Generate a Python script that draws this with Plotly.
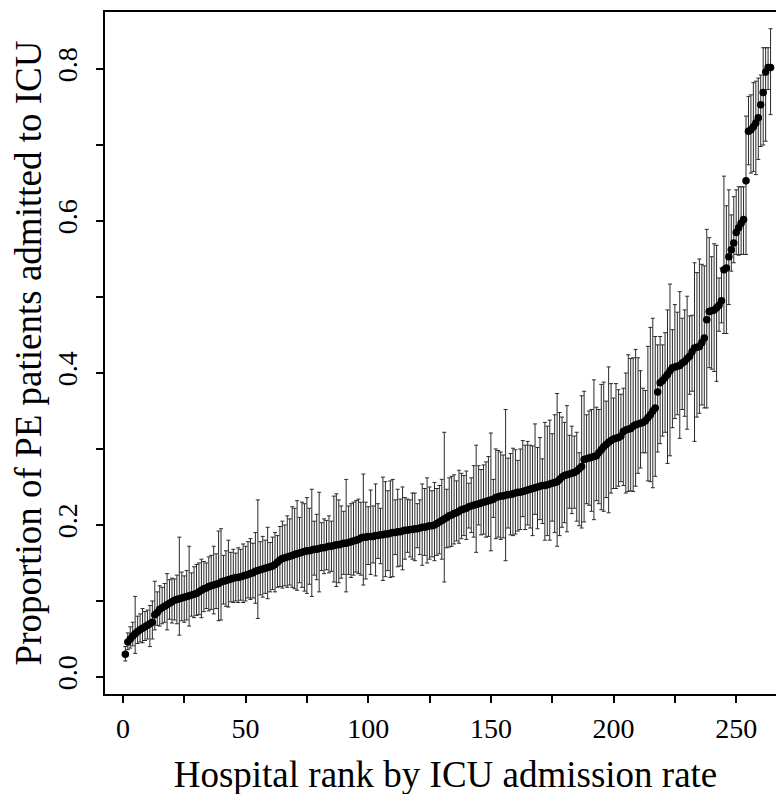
import plotly.graph_objects as go

rank = list(range(1, 265))

prop = [
    .030, .046, .050, .054, .057, .060, .062, .064, .066, .068, .070, .072,
    .082, .085, .089, .091, .093, .095, .097, .099, .101, .102, .103, .104, .105, .106, .107, .108, .109, .110, .112, .114, .116,
    .117, .119, .120, .121, .122, .123, .125, .126, .127, .128, .129, .130, .131, .131, .132, .133, .134, .135, .136, .137,
    .139, .140, .141, .142, .143, .144, .145, .146, .148, .151, .154, .156, .157, .158, .159, .160, .161, .162, .163,
    .164, .165, .166, .166, .167, .168, .168, .169, .170, .170, .171, .172, .172, .173, .174, .174, .175, .176, .176, .177,
    .178, .179, .180, .181, .183, .184, .184, .185, .185, .185, .186, .186, .187, .187, .188, .188,
    .189, .190, .190, .191, .191, .192, .193, .193, .194, .194, .195, .195, .196, .197, .197, .198, .199, .199, .200, .202,
    .204, .206, .208, .210, .212, .213, .215, .216, .218, .220, .221, .222, .224, .225, .226, .227, .228,
    .229, .230, .231, .232, .233, .234, .236, .237, .238, .238, .239, .240, .240, .241, .242, .243, .243, .244, .245, .246,
    .247, .248, .249, .250, .251, .252, .252, .253, .254, .255, .256, .257, .260, .263, .265, .266, .267, .268, .269, .271,
    .274, .277, .286, .287, .288, .289, .290, .291, .295, .299, .303, .306, .309, .311, .313, .314, .315, .317, .323, .325,
    .326, .327, .330, .332, .333, .334, .335, .337, .341, .345, .350, .354, .375, .387, .390, .394, .398, .403, .407, .408,
    .409, .410, .413, .415, .419, .422, .428, .433, .434, .435, .440, .446, .470, .481, .482, .483, .486, .489, .495, .536,
    .538, .553, .562, .571, .585, .591, .597, .602, .653, .718, .720, .724, .729, .736, .753, .769, .796, .802, .802,
]

lower = [
    .021, .036, .038, .041, .031, .044, .046, .045, .048, .050, .040, .050,
    .062, .068, .067, .070, .072, .062, .076, .071, .075, .070, .055, .074, .072, .075, .067, .080, .078, .081, .082, .078, .086,
    .090, .087, .089, .083, .090, .074, .075, .096, .093, .092, .099, .098, .100, .098, .101, .098, .100, .104, .102, .104,
    .097, .077, .108, .105, .110, .103, .112, .115, .112, .118, .119, .117, .120, .118, .121, .118, .116, .114, .124,
    .118, .113, .110, .122, .106, .134, .128, .112, .140, .136, .141, .137, .139, .125, .119, .124, .130, .135, .112, .135,
    .131, .134, .138, .136, .134, .121, .129, .148, .135, .150, .133, .156, .149, .127, .132, .140,
    .131, .132, .161, .145, .146, .141, .155, .164, .158, .155, .153, .170, .161, .147, .160, .150, .155, .158, .153, .160,
    .162, .155, .125, .170, .171, .172, .175, .179, .176, .182, .186, .181, .196, .190, .184, .164, .200,
    .187, .188, .184, .185, .166, .210, .182, .184, .181, .183, .153, .196, .187, .186, .188, .192, .194, .211, .194, .200,
    .196, .186, .214, .195, .207, .202, .180, .186, .180, .205, .190, .172, .186, .197, .203, .191, .222, .215, .222, .205,
    .199, .196, .204, .228, .226, .218, .207, .232, .228, .220, .218, .236, .216, .242, .248, .248, .251, .257, .252, .242,
    .244, .245, .244, .251, .268, .275, .295, .295, .258, .257, .249, .264, .296, .307, .317, .322, .281, .291, .328, .340,
    .345, .314, .352, .343, .326, .372, .376, .310, .342, .347, .358, .354, .354, .407, .405, .402, .389, .455, .466, .452,
    .452, .490, .534, .545, .556, .555, .556, .556, .556, .674, .663, .665, .661, .681, .698, .700, .705, .773, .740,
]

upper = [
    .040, .058, .066, .072, .106, .080, .083, .090, .086, .088, .094, .100,
    .126, .112, .120, .118, .123, .136, .128, .130, .129, .134, .184, .138, .133, .140, .172, .137, .145, .148, .150, .155, .152,
    .150, .158, .160, .172, .162, .192, .195, .160, .166, .180, .164, .168, .163, .170, .168, .175, .172, .178, .182, .176,
    .190, .233, .178, .185, .180, .197, .177, .184, .190, .186, .198, .205, .200, .212, .208, .224, .222, .232, .210,
    .230, .228, .236, .222, .247, .205, .214, .243, .203, .208, .206, .212, .205, .238, .241, .233, .225, .218, .260, .225,
    .228, .230, .232, .234, .230, .267, .230, .224, .246, .225, .254, .228, .222, .263, .257, .245,
    .258, .260, .233, .247, .234, .250, .236, .234, .233, .242, .242, .228, .233, .254, .248, .262, .250, .245, .256, .248,
    .252, .260, .322, .247, .262, .264, .266, .258, .272, .268, .265, .271, .255, .262, .278, .305, .278,
    .273, .279, .283, .290, .321, .260, .300, .298, .296, .292, .352, .288, .294, .301, .299, .285, .300, .311, .305, .310,
    .305, .304, .333, .302, .315, .287, .335, .330, .338, .320, .345, .373, .348, .342, .335, .357, .318, .330, .317, .322,
    .295, .370, .376, .345, .350, .352, .391, .355, .352, .385, .388, .363, .408, .386, .367, .386, .378, .372, .380, .400,
    .424, .419, .420, .431, .420, .403, .380, .377, .435, .460, .472, .448, .437, .448, .437, .453, .483, .517, .457, .490,
    .480, .507, .472, .483, .501, .475, .476, .545, .532, .550, .543, .541, .589, .578, .553, .570, .568, .525, .538, .659,
    .620, .641, .608, .632, .641, .645, .645, .645, .738, .764, .766, .782, .784, .788, .792, .828, .828, .828, .853,
]

x_ticks = [0, 25, 50, 75, 100, 125, 150, 175, 200, 225, 250]
x_tick_labels = ["0", "", "50", "", "100", "", "150", "", "200", "", "250"]
y_ticks = [0.0, 0.1, 0.2, 0.3, 0.4, 0.5, 0.6, 0.7, 0.8]
y_tick_labels = ["0.0", "", "0.2", "", "0.4", "", "0.6", "", "0.8"]

err_plus = [u - p for u, p in zip(upper, prop)]
err_minus = [p - l for p, l in zip(prop, lower)]

FONT = "Liberation Serif, Times New Roman, serif"

fig = go.Figure()
fig.add_trace(go.Scatter(
    x=rank, y=prop, mode="markers",
    marker=dict(color="black", size=7.5, line=dict(width=0)),
    error_y=dict(type="data", symmetric=False, array=err_plus, arrayminus=err_minus,
                 color="#2a2a2a", thickness=1, width=2),
    showlegend=False, hoverinfo="x+y",
))

axis_common = dict(
    showline=True, mirror=True, linecolor="black", linewidth=1.5,
    ticks="outside", ticklen=7, tickwidth=1.5, tickcolor="black",
    showgrid=False, zeroline=False, automargin=False,
    tickfont=dict(family=FONT, size=28, color="black"),
)

fig.update_layout(
    width=784, height=794,
    margin=dict(l=97, r=6, t=4, b=108),
    paper_bgcolor="white", plot_bgcolor="white",
    font=dict(family=FONT, color="black"),
    xaxis=dict(
        range=[-7.3, 270.3], tickmode="array", tickvals=x_ticks, ticktext=x_tick_labels,
        ticklabelstandoff=2,
        title=dict(text="Hospital rank by ICU admission rate", font=dict(family=FONT, size=37), standoff=18),
        **axis_common,
    ),
    yaxis=dict(
        range=[-0.0224, 0.875], tickmode="array", tickvals=y_ticks, ticktext=y_tick_labels,
        tickangle=-90, ticklabelstandoff=8,
        title=dict(text="Proportion of PE patients admitted to ICU", font=dict(family=FONT, size=37), standoff=6),
        **axis_common,
    ),
)

fig.write_html("out.html")
